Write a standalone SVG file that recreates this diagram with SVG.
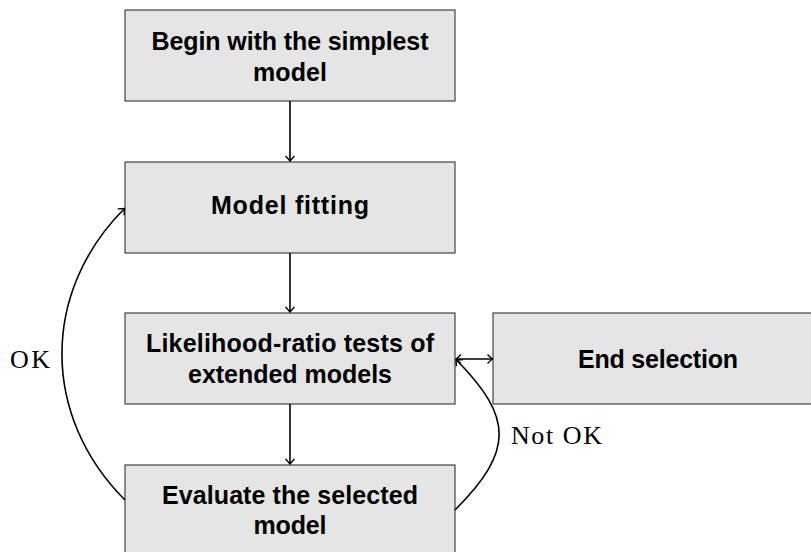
<svg xmlns="http://www.w3.org/2000/svg" width="811" height="552" viewBox="0 0 811 552">
<defs>
<style>
.box{fill:#e5e5e5;stroke:#333;stroke-width:1.1}
.t{font-family:"Liberation Sans",Arial,sans-serif;font-weight:bold;font-size:25px;fill:#000;text-anchor:middle}
.lbl{font-family:"Liberation Serif","Times New Roman",serif;font-size:26px;fill:#000}
.c{fill:none;stroke:#000;stroke-width:1.6}
</style>
<marker id="ah" viewBox="-7 -6 8 12" markerWidth="8" markerHeight="12" refX="0" refY="0" orient="auto-start-reverse" markerUnits="userSpaceOnUse">
<path d="M-5,-4.5 Q-1.3,-0.9 0,0 Q-1.3,0.9 -5,4.5" fill="none" stroke="#000" stroke-width="1.4"/>
</marker>
</defs>
<rect width="811" height="552" fill="#fff"/>
<g id="n1">
<rect class="box" x="125" y="10" width="330" height="91"/>
<text class="t" x="290" y="50" textLength="277">Begin with the simplest</text>
<text class="t" x="290" y="80.5" textLength="74">model</text>
</g>
<g id="n2">
<rect class="box" x="125" y="162" width="330" height="91"/>
<text class="t" x="290" y="214" textLength="158">Model fitting</text>
</g>
<g id="n3">
<rect class="box" x="125" y="313" width="330" height="91"/>
<text class="t" x="290" y="352" textLength="288">Likelihood-ratio tests of</text>
<text class="t" x="290" y="382.5" textLength="204">extended models</text>
</g>
<g id="n4">
<rect class="box" x="125" y="465" width="330" height="91"/>
<text class="t" x="290" y="504" textLength="256">Evaluate the selected</text>
<text class="t" x="290" y="534" textLength="73">model</text>
</g>
<g id="n5">
<rect class="box" x="493" y="313" width="330" height="91"/>
<text class="t" x="658" y="367.5" textLength="160">End selection</text>
</g>
<g id="edges">
<line class="c" x1="290" y1="101" x2="290" y2="161" marker-end="url(#ah)"/>
<line class="c" x1="290" y1="253" x2="290" y2="312" marker-end="url(#ah)"/>
<line class="c" x1="290" y1="404" x2="290" y2="464" marker-end="url(#ah)"/>
<line class="c" x1="456" y1="359" x2="492.5" y2="359" marker-start="url(#ah)" marker-end="url(#ah)"/>
<path class="c" d="M125,500 C41,416 41,292 124.5,208.5" marker-end="url(#ah)"/>
<path class="c" d="M455,510 C513.7,451 513.7,418 456,359.5" marker-end="url(#ah)"/>
<text class="lbl" x="10" y="368" textLength="40">OK</text>
<text class="lbl" x="511" y="444" textLength="91">Not OK</text>
</g>
</svg>
